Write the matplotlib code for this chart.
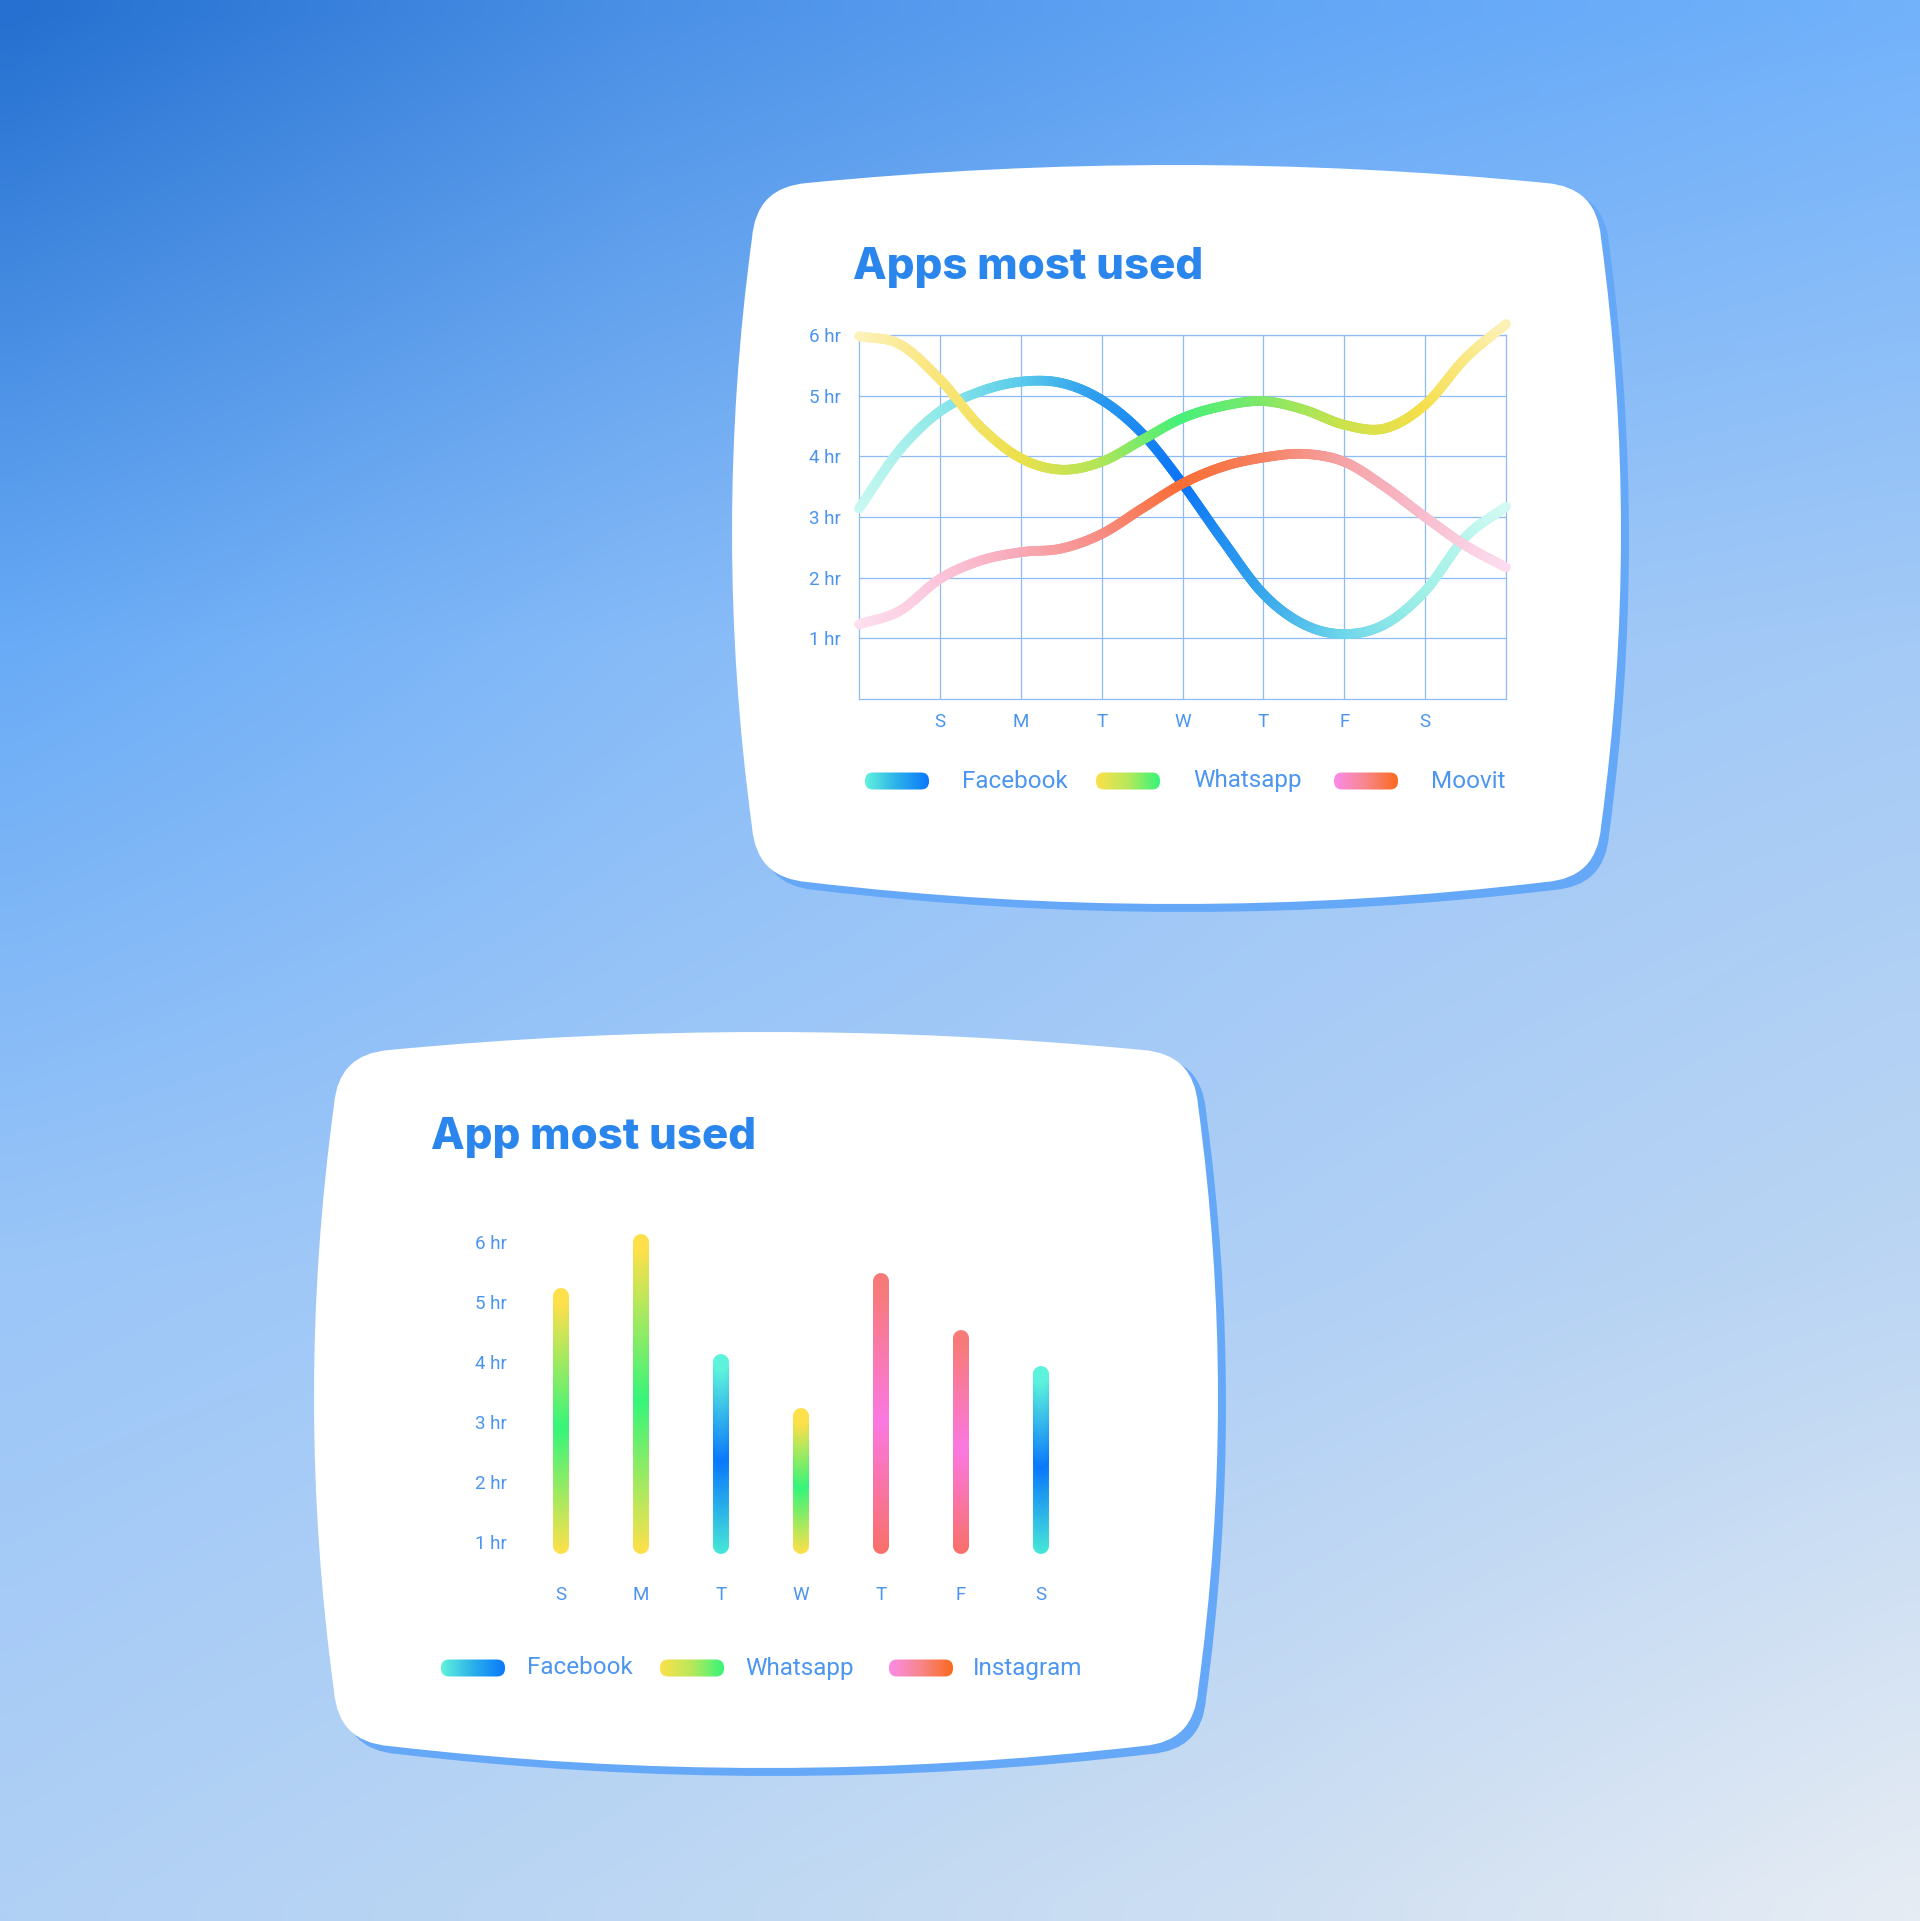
import numpy as np
import matplotlib.pyplot as plt
from matplotlib.path import Path
from matplotlib.patches import PathPatch, FancyBboxPatch
from matplotlib.collections import LineCollection
from matplotlib.colors import LinearSegmentedColormap, to_rgb

# ---- data ----
days = ["S", "M", "T", "W", "T", "F", "S"]
hour_ticks = [1, 2, 3, 4, 5, 6]
hour_labels = ["1 hr", "2 hr", "3 hr", "4 hr", "5 hr", "6 hr"]

# line chart: values sampled every half day, x = 0 .. 8 (days sit at 1..7)
line_x = [0, 0.5, 1, 1.5, 2, 2.5, 3, 3.5, 4, 4.5, 5, 5.5, 6, 6.5, 7, 7.5, 8]
facebook_hr = [3.14, 4.1, 4.74, 5.07, 5.23, 5.21, 4.93, 4.38, 3.55, 2.61, 1.73, 1.23, 1.07, 1.23, 1.78, 2.67, 3.17]
whatsapp_hr = [5.98, 5.85, 5.27, 4.49, 3.97, 3.78, 3.91, 4.27, 4.63, 4.83, 4.91, 4.77, 4.52, 4.46, 4.85, 5.62, 6.18]
moovit_hr = [1.23, 1.45, 1.98, 2.28, 2.42, 2.48, 2.72, 3.14, 3.55, 3.83, 3.98, 4.04, 3.91, 3.50, 3.00, 2.53, 2.17]
line_apps = ["Facebook", "Whatsapp", "Moovit"]

# bar chart: one app per day
bar_hr = [5.1, 6.0, 4.0, 3.1, 5.35, 4.4, 3.8]
bar_app = ["Whatsapp", "Whatsapp", "Facebook", "Whatsapp", "Instagram", "Instagram", "Facebook"]
bar_apps = ["Facebook", "Whatsapp", "Instagram"]
BAR_BASE = 0.93

# ---- styling ----
W, H = 1920, 1921
BLUE_T = "#2a86ec"
BLUE_L = "#4a94ef"
GRID = "#8fbbf4"

line_cmaps = {
    "Facebook": ["#c8f8f1", "#8fe9e8", "#5ccdea", "#2c9bef", "#0a74f6", "#36a6ec", "#6cd5ea", "#9ef0e6", "#d0faf3"],
    "Whatsapp": ["#fdf2bd", "#fae57a", "#ece04c", "#b3e558", "#45f07a", "#7de86a", "#c9e24c", "#f5df4a", "#fdf0b5"],
    "Moovit": ["#fde0ef", "#fbc6dc", "#f8aab8", "#f78e86", "#f96d34", "#f6805e", "#f5a2a4", "#f8bccd", "#fcdcee"],
}
bar_cols = {
    "Whatsapp": ["#fde04a", "#35f57a", "#fde04a"],
    "Facebook": ["#46e6d8", "#0a78fb", "#5cf2dc"],
    "Instagram": ["#f8706a", "#fb78e2", "#f77a7a"],
}
swatch_cols = {
    "Facebook": ["#62f2dc", "#2bb0ea", "#0a78fb"],
    "Whatsapp": ["#fde04a", "#b8e85a", "#35f57a"],
    "Moovit": ["#fb8ce8", "#f7868a", "#fb6a1e"],
    "Instagram": ["#fb8ce8", "#f7868a", "#fb6a1e"],
}

bg_grid = np.array([
    ["#2570d0", "#4a90e6", "#62a6f6", "#72b2fb"],
    ["#69abf6", "#86bbf8", "#9cc6f8", "#a4caf6"],
    ["#9bc6f8", "#a5cbf7", "#afcff5", "#bcd6f3"],
    ["#b0d0f5", "#bdd7f3", "#cedff2", "#e6ecf4"],
])

fig = plt.figure(figsize=(19.2, 19.21), dpi=100)
bg = fig.add_axes([0, 0, 1, 1])
bg.axis("off")

rgb = np.array([[to_rgb(c) for c in row] for row in bg_grid])
bg.imshow(rgb, extent=(-300, W + 300, H + 300, -300), interpolation="bilinear", aspect="auto")


def card_path(xl, xr, yt, yb, r, bt, bs, bb):
    xm, ym = (xl + xr) / 2, (yt + yb) / 2
    verts = [
        (xl, yt + r),
        (xl + 4, yt + 4), (xl + r, yt),
        (xm, yt - 2 * bt), (xr - r, yt),
        (xr - 4, yt + 4), (xr, yt + r),
        (xr + 2 * bs, ym), (xr, yb - r),
        (xr - 4, yb - 4), (xr - r, yb),
        (xm, yb + 2 * bb), (xl + r, yb),
        (xl + 4, yb - 4), (xl, yb - r),
        (xl - 2 * bs, ym), (xl, yt + r),
    ]
    codes = [Path.MOVETO] + [Path.CURVE3] * 16
    return Path(verts, codes)


cards = [(752, 1601, 183, 882), (334, 1198, 1050, 1746)]
for (xl, xr, yt, yb) in cards:
    sh = card_path(xl + 8, xr + 8, yt + 6, yb + 8, 55, 18, 20, 22)
    bg.add_patch(PathPatch(sh, fc="#65a8f7", ec="none", zorder=2))
    p = card_path(xl, xr, yt, yb, 55, 18, 20, 22)
    bg.add_patch(PathPatch(p, fc="white", ec="none", zorder=3))

bg.set_xlim(0, W)
bg.set_ylim(H, 0)

title_font = dict(family="Inter", weight="heavy", color=BLUE_T, fontsize=31.5)
bg.text(853, 268, "Apps most used", va="center", ha="left", zorder=5, **title_font)
bg.text(431, 1138, "App most used", va="center", ha="left", zorder=5, **title_font)


def legend(apps, swatch_x, text_x, y):
    for app, sx, tx in zip(apps, swatch_x, text_x):
        pill = FancyBboxPatch((sx + 8, y - 0.5), 64 - 16, 1, boxstyle="round,pad=8",
                              fc="none", ec="none", zorder=5)
        bg.add_patch(pill)
        cm = LinearSegmentedColormap.from_list(app, swatch_cols[app])
        im = bg.imshow(np.linspace(0, 1, 256)[None, :], cmap=cm, aspect="auto",
                       extent=(sx, sx + 64, y + 9, y - 9), zorder=5)
        im.set_clip_path(pill)
        bg.text(tx, y, app, va="center", ha="left", color="#4d96f0", fontsize=17.5,
                family="Roboto", weight="normal", zorder=5)


legend(line_apps, [865, 1096, 1334], [962, 1193, 1431], 781)
legend(bar_apps, [441, 660, 889], [527, 745, 973], 1668)
bg.set_xlim(0, W)
bg.set_ylim(H, 0)


def catmull(xs, ys, n=24):
    pts = np.column_stack([xs, ys]).astype(float)
    p = np.vstack([2 * pts[0] - pts[1], pts, 2 * pts[-1] - pts[-2]])
    t = np.linspace(0, 1, n, endpoint=False)[:, None]
    out = []
    for i in range(1, len(p) - 2):
        p0, p1, p2, p3 = p[i - 1], p[i], p[i + 1], p[i + 2]
        out.append(0.5 * (2 * p1 + (-p0 + p2) * t + (2 * p0 - 5 * p1 + 4 * p2 - p3) * t ** 2
                          + (-p0 + 3 * p1 - 3 * p2 + p3) * t ** 3))
    out.append(pts[-1:])
    return np.vstack(out)


# ---- line chart ----
ax1 = fig.add_axes([859 / W, 1 - 699 / H, (1506 - 859) / W, (699 - 335) / H])
ax1.set_facecolor("none")
ax1.set_xlim(0, 8)
ax1.set_ylim(0, 6)
ax1.set_xticks(range(1, 8))
ax1.set_xticklabels(days)
ax1.set_yticks(hour_ticks)
ax1.set_yticklabels(hour_labels)
ax1.grid(True, color=GRID, lw=0.9)
for s in ax1.spines.values():
    s.set_color(GRID)
    s.set_linewidth(0.9)
ax1.tick_params(length=0, colors=BLUE_L, labelsize=13.5)
ax1.tick_params(axis="y", pad=13)
ax1.tick_params(axis="x", pad=10)
for lab in ax1.get_xticklabels() + ax1.get_yticklabels():
    lab.set_family("Roboto")

for app, vals in zip(line_apps, [facebook_hr, whatsapp_hr, moovit_hr]):
    pts = catmull(line_x, vals)
    segs = np.stack([pts[:-1], pts[1:]], axis=1)
    cm = LinearSegmentedColormap.from_list(app, line_cmaps[app])
    mids = (pts[:-1, 0] + pts[1:, 0]) / 2 / 8
    lc = LineCollection(segs, colors=cm(mids), linewidths=7, capstyle="round",
                        joinstyle="round", zorder=3, clip_on=False)
    ax1.add_collection(lc)

# ---- bar chart ----
ax2 = fig.add_axes([521 / W, 1 - 1575 / H, 560 / W, 351 / H])
ax2.set_facecolor("none")
ax2.set_xlim(-0.5, 6.5)
ax2.set_ylim(0.45, 6.3)
ax2.set_xticks(range(len(days)))
ax2.set_xticklabels(days)
ax2.set_yticks(hour_ticks)
ax2.set_yticklabels(hour_labels)
for s in ax2.spines.values():
    s.set_visible(False)
ax2.tick_params(length=0, colors=BLUE_L, labelsize=13.5)
ax2.tick_params(axis="y", pad=10)
ax2.tick_params(axis="x", pad=8)
for lab in ax2.get_xticklabels() + ax2.get_yticklabels():
    lab.set_family("Roboto")

for i, (v, app) in enumerate(zip(bar_hr, bar_app)):
    ys = np.linspace(BAR_BASE, v, 120)
    segs = np.stack([np.column_stack([np.full(119, i), ys[:-1]]),
                     np.column_stack([np.full(119, i), ys[1:]])], axis=1)
    cm = LinearSegmentedColormap.from_list(app, bar_cols[app])
    lc = LineCollection(segs, colors=cm(np.linspace(0, 1, 119)), linewidths=11.5,
                        capstyle="round", zorder=3, clip_on=False)
    ax2.add_collection(lc)

fig.savefig("out.png", dpi=100)
